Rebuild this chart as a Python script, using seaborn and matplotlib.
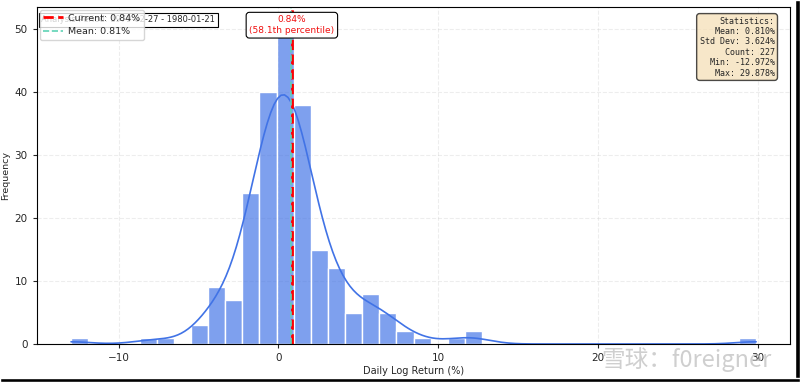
import numpy as np
import pandas as pd
import seaborn as sns
import matplotlib.pyplot as plt
from matplotlib.lines import Line2D
import matplotlib.transforms as mtransforms

# histogram: 40 bins between min and max
data_min = -12.972
data_max = 29.878
counts = [1, 0, 0, 0, 1, 1, 0, 3, 9, 7,
          24, 40, 51, 38, 15, 12, 5, 8, 5, 2,
          1, 0, 1, 2, 0, 0, 0, 0, 0, 0,
          0, 0, 0, 0, 0, 0, 0, 0, 0, 1]

current_ret = 0.84
mean_ret = 0.810
std_ret = 3.624
n_obs = 227
percentile = 58.1
period = "Analysis Period: 1979-02-27 - 1980-01-21"

edges = np.linspace(data_min, data_max, len(counts) + 1)
centers = (edges[:-1] + edges[1:]) / 2
values = np.repeat(centers, counts)
values[0] = data_min
values[-1] = data_max
df = pd.DataFrame({"ret": values})

sns.set_style("ticks")
plt.rcParams['font.family'] = ['DejaVu Sans', 'Noto Sans CJK SC']

fig = plt.figure(figsize=(8, 3.82), dpi=100)
ax = fig.add_axes([0.046, 0.0995, 0.942, 0.882])

sns.histplot(data=df, x="ret", bins=edges, kde=True, color="#4173E6",
             alpha=0.68, edgecolor="white", linewidth=1, ax=ax,
             line_kws={"linewidth": 1.2})

ax.axvline(current_ret, color="red", linestyle="--", linewidth=2)
ax.axvline(mean_ret, color="#5fd3b5", linestyle="--", linewidth=1.2)

ax.grid(True, linestyle="--", alpha=0.35)
ax.set_yticks([0, 10, 20, 30, 40, 50])
ax.tick_params(labelsize=7.5, length=3, width=0.8)
for s in ax.spines.values():
    s.set_color("black")
    s.set_linewidth(0.8)
ax.set_xlabel("Daily Log Return (%)", fontsize=7, labelpad=2)
ax.set_ylabel("Frequency", fontsize=6.8, labelpad=3)

# period box, partly under the legend
ax.text(0.006, 0.975, period, transform=ax.transAxes, fontsize=6,
        va="top", ha="left",
        bbox=dict(boxstyle="square,pad=0.3", facecolor="white", edgecolor="black", linewidth=0.8))

handles = [Line2D([0], [0], color="red", linestyle="--", linewidth=2),
           Line2D([0], [0], color="#5fd3b5", linestyle="--", linewidth=1.2)]
leg = ax.legend(handles, [f"Current: {current_ret:.2f}%", f"Mean: {mean_ret:.2f}%"],
                loc="upper left", fontsize=6.8, framealpha=0.8,
                borderaxespad=0.3, handlelength=2.1, handletextpad=0.5)

trans = mtransforms.blended_transform_factory(ax.transData, ax.transAxes)
ax.text(current_ret, 0.975, f"{current_ret:.2f}%\n({percentile}th percentile)",
        transform=trans, color="#f01010", fontsize=6.5, ha="center", va="top",
        bbox=dict(boxstyle="round,pad=0.35", facecolor="white", edgecolor="black", linewidth=0.8))

stats = (f"Statistics:\nMean: {mean_ret:.3f}%\nStd Dev: {std_ret:.3f}%\n"
         f"Count: {n_obs}\nMin: {data_min:.3f}%\nMax: {data_max:.3f}%")
ax.text(0.979, 0.972, stats, transform=ax.transAxes, fontsize=6,
        family="monospace", ha="right", va="top", multialignment="right",
        bbox=dict(boxstyle="round,pad=0.35", facecolor="wheat", alpha=0.7, edgecolor="black"))

# screenshot border and watermark
fig.patches.append(plt.Rectangle((0.994, 0), 0.006, 1, transform=fig.transFigure,
                                 facecolor="black", zorder=10))
fig.patches.append(plt.Rectangle((0, 0), 1, 0.01, transform=fig.transFigure,
                                 facecolor="black", zorder=10))
fig.text(0.752, 0.04, "雪球：f0reigner", fontsize=17, color="#bbbbbb", alpha=0.7,
         family=["Noto Sans CJK SC", "DejaVu Sans"], zorder=11)

fig.savefig("out.png", dpi=100)
